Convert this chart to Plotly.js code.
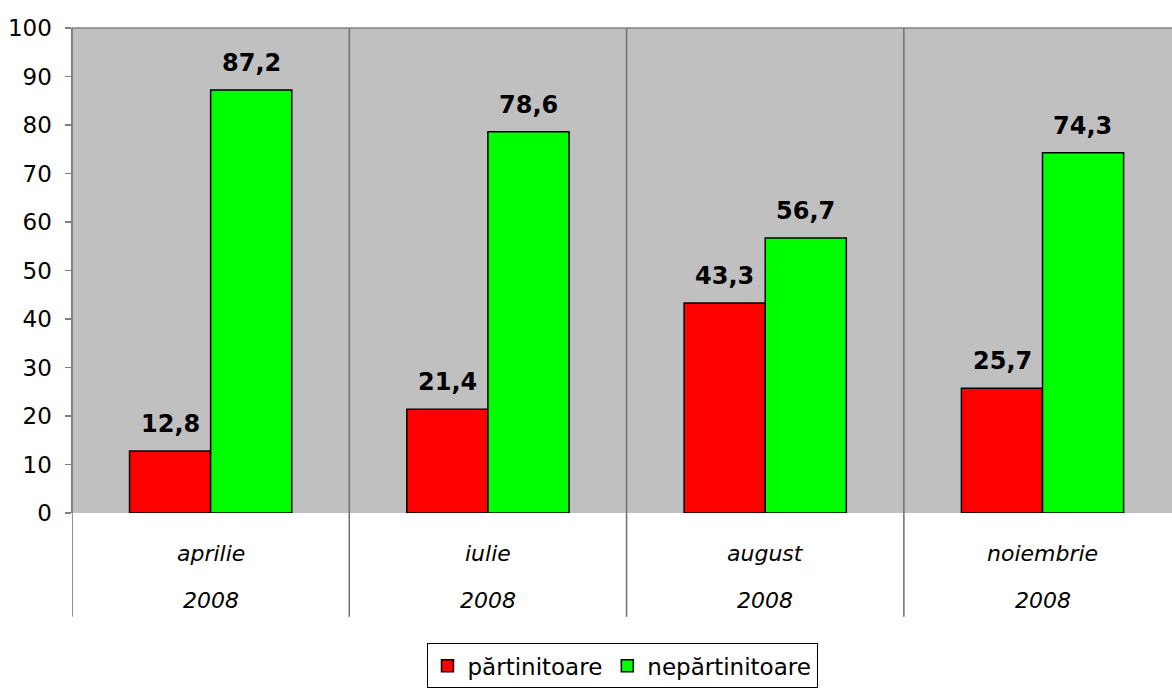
<!DOCTYPE html>
<html><head><meta charset="utf-8">
<script src="https://cdn.plot.ly/plotly-3.0.1.min.js"></script>
<style>html,body{margin:0;padding:0;background:#fff}#chart{width:1172px;height:693px}</style>
</head><body><div id="chart"></div>
<script>
const months = ["aprilie", "iulie", "august", "noiembrie"];
const years = ["2008", "2008", "2008", "2008"];
const partinitoare = [12.8, 21.4, 43.3, 25.7];
const nepartinitoare = [87.2, 78.6, 56.7, 74.3];
const seriesNames = ["părtinitoare", "nepărtinitoare"];
const seriesColors = ["#FF0000", "#00FF00"];
const yTicks = [0, 10, 20, 30, 40, 50, 60, 70, 80, 90, 100];

const FONT = "DejaVu Sans, Verdana, sans-serif";
const idx = months.map((_, i) => i);
const fmt = v => v.toFixed(1).replace(".", ",");
const xMax = months.length - 0.533;

const traces = [partinitoare, nepartinitoare].map((vals, s) => ({
  type: "bar", x: idx, y: vals, name: seriesNames[s],
  marker: {color: seriesColors[s], line: {color: "#000", width: 1.5}},
  hoverinfo: "skip"
}));

const annotations = [];
[partinitoare, nepartinitoare].forEach((vals, s) => {
  vals.forEach((v, i) => {
    annotations.push({
      x: i + (s === 0 ? -0.146 : 0.146), y: v, xref: "x", yref: "y",
      text: "<b>" + fmt(v) + "</b>", showarrow: false, yanchor: "bottom", yshift: 11,
      font: {family: FONT, size: 24, color: "#000"}
    });
  });
});
months.forEach((m, i) => {
  annotations.push({x: i, y: -0.0825, xref: "x", yref: "paper", text: "<i>" + m + "</i>",
    showarrow: false, yanchor: "middle", font: {family: FONT, size: 22, color: "#000"}});
  annotations.push({x: i, y: -0.181, xref: "x", yref: "paper", text: "<i>" + years[i] + "</i>",
    showarrow: false, yanchor: "middle", font: {family: FONT, size: 22, color: "#000"}});
});

const shapes = [];
for (let k = 0; k < months.length; k++) {
  shapes.push({type: "line", xref: "x", yref: "paper", x0: k - 0.5, x1: k - 0.5,
    y0: -0.214, y1: 1, line: {color: "#707070", width: 1.5}, layer: "above"});
}
shapes.push({type: "line", xref: "paper", yref: "paper", x0: 0, x1: 1, y0: 1, y1: 1,
  line: {color: "#808080", width: 1.5}});

const layout = {
  width: 1172, height: 693,
  margin: {l: 72, r: 0, t: 28, b: 180},
  paper_bgcolor: "#fff", plot_bgcolor: "#C0C0C0",
  barmode: "group", bargap: 0.415, bargroupgap: 0,
  font: {family: FONT, size: 22, color: "#000"},
  xaxis: {range: [-0.5, xMax], showticklabels: false, showgrid: false,
    zeroline: false, ticks: "", showline: false, fixedrange: true},
  yaxis: {range: [0, 100], tickvals: yTicks, ticktext: yTicks.map(String), showgrid: false,
    zeroline: false, showline: true, linecolor: "#808080", linewidth: 1.5,
    ticks: "outside", ticklen: 6, tickcolor: "#808080", tickwidth: 1.5,
    ticklabelstandoff: 8,
    tickfont: {family: FONT, size: 23, color: "#000"}, fixedrange: true},
  showlegend: true,
  legend: {orientation: "h", x: 0.5, xanchor: "center", y: -0.315, yanchor: "middle",
    bordercolor: "#000", borderwidth: 1, bgcolor: "#fff",
    font: {family: FONT, size: 23, color: "#000"}, itemwidth: 30, tracegroupgap: 0},
  annotations, shapes
};
Plotly.newPlot("chart", traces, layout, {displayModeBar: false, staticPlot: true});
</script></body></html>
